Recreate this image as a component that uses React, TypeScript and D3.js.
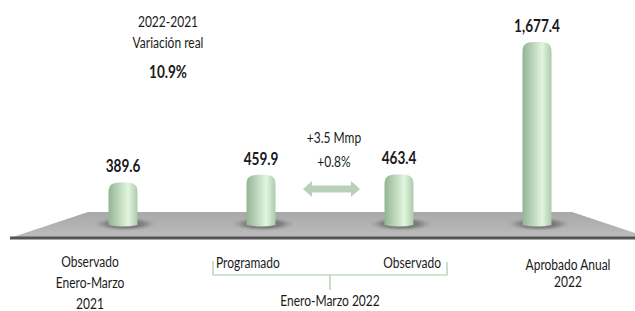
import React, { useEffect, useRef } from 'react';
import * as d3 from 'd3';

const categories = ['obs2021', 'prog2022', 'obs2022', 'aprob2022'];
const values = [389.6, 459.9, 463.4, 1677.4];
const valueLabels = ['389.6', '459.9', '463.4', '1,677.4'];

const W = 635;
const H = 311;
const FONT = 'Lato, "Open Sans", sans-serif';
const SX = 0.8; // compresión horizontal del texto

const App: React.FC = () => {
  const ref = useRef<SVGSVGElement>(null);

  useEffect(() => {
    if (!ref.current) return;
    const svg = d3.select(ref.current);
    svg.selectAll('*').remove();

    const x = d3.scalePoint<string>().domain(categories).range([123, 537]);
    const y = d3.scaleLinear().domain([0, 1677.4]).range([225, 42]);
    const barW = 29;

    const defs = svg.append('defs');
    const grad = defs.append('linearGradient').attr('id', 'barGrad')
      .attr('x1', '0%').attr('x2', '100%').attr('y1', '0%').attr('y2', '0%');
    grad.append('stop').attr('offset', '0%').attr('stop-color', '#93b493');
    grad.append('stop').attr('offset', '30%').attr('stop-color', '#b6d1b5');
    grad.append('stop').attr('offset', '68%').attr('stop-color', '#e2f5df');
    grad.append('stop').attr('offset', '100%').attr('stop-color', '#adcaab');

    const shadow = defs.append('radialGradient').attr('id', 'shadowGrad');
    shadow.append('stop').attr('offset', '0%').attr('stop-color', '#444').attr('stop-opacity', 0.9);
    shadow.append('stop').attr('offset', '60%').attr('stop-color', '#666').attr('stop-opacity', 0.6);
    shadow.append('stop').attr('offset', '100%').attr('stop-color', '#999').attr('stop-opacity', 0);

    const floorGrad = defs.append('linearGradient').attr('id', 'floorGrad')
      .attr('x1', '0').attr('x2', '0').attr('y1', '0').attr('y2', '1');
    floorGrad.append('stop').attr('offset', '0%').attr('stop-color', '#a8a8a8');
    floorGrad.append('stop').attr('offset', '100%').attr('stop-color', '#bcbcbc');

    // piso
    svg.append('path')
      .attr('d', 'M10,238 L88,212 L572,212 L650,238 Z')
      .attr('fill', 'url(#floorGrad)');
    svg.append('rect').attr('x', 10).attr('y', 236.5).attr('width', 640).attr('height', 3)
      .attr('fill', '#555');

    // sombras
    svg.selectAll('.shadow')
      .data(categories)
      .enter().append('ellipse')
      .attr('cx', d => (x(d) as number) + 2)
      .attr('cy', 224)
      .attr('rx', 32)
      .attr('ry', 7)
      .attr('fill', 'url(#shadowGrad)');

    // barras
    const r = 10;
    svg.selectAll('.bar')
      .data(values)
      .enter().append('path')
      .attr('d', (v, i) => {
        const cx = x(categories[i]) as number;
        const x0 = cx - barW / 2;
        const x1 = cx + barW / 2;
        const top = y(v);
        const bot = y(0);
        return `M${x0},${bot} L${x0},${top + r} C${x0},${top + 1} ${x0 + 4},${top} ${cx},${top} C${x1 - 4},${top} ${x1},${top + 1} ${x1},${top + r} L${x1},${bot} Q${cx},${bot + 3} ${x0},${bot} Z`;
      })
      .attr('fill', 'url(#barGrad)');

    const txt = (tx: number, ty: number, s: string, size = 15, anchor = 'middle', bold = false) =>
      svg.append('text')
        .attr('transform', `translate(${tx},${ty}) scale(${SX},1)`)
        .attr('text-anchor', anchor)
        .style('font-family', FONT)
        .style('font-weight', bold ? 'bold' : 'normal')
        .style('font-size', size + 'px')
        .attr('fill', '#1a1a1a')
        .text(s);

    // etiquetas de valor
    values.forEach((v, i) => {
      txt(x(categories[i]) as number, y(v) - 10, valueLabels[i], 17, 'middle', true);
    });

    // variación real
    txt(168, 27, '2022-2021');
    txt(168, 48, 'Variación real');
    txt(168, 78, '10.9%', 17, 'middle', true);

    // flecha
    const ax0 = 303, ax1 = 360, ay = 189;
    svg.append('path')
      .attr('d', `M${ax0},${ay} L${ax0 + 9},${ay - 8} L${ax0 + 9},${ay - 3.5} L${ax1 - 9},${ay - 3.5} L${ax1 - 9},${ay - 8} L${ax1},${ay} L${ax1 - 9},${ay + 8} L${ax1 - 9},${ay + 3.5} L${ax0 + 9},${ay + 3.5} L${ax0 + 9},${ay + 8} Z`)
      .attr('fill', '#b9d1b8');
    txt(334, 143, '+3.5 Mmp');
    txt(334, 167, '+0.8%');

    // etiquetas categorías
    txt(90, 267, 'Observado');
    txt(90, 288, 'Enero-Marzo');
    txt(90, 309, '2021');
    txt(216, 268, 'Programado', 15, 'start');
    txt(441, 268, 'Observado', 15, 'end');
    txt(568, 270, 'Aprobado Anual');
    txt(568, 287, '2022');

    // llave
    svg.append('path')
      .attr('d', 'M213,261 L213,275 L447,275 L447,262 M330,275 L330,290')
      .attr('fill', 'none')
      .attr('stroke', '#a9c9a8')
      .attr('stroke-width', 1.2);
    txt(330, 306, 'Enero-Marzo 2022');
  }, []);

  return (
    <svg ref={ref} width={W} height={H}
      style={{ position: 'absolute', left: 0, top: 0, background: '#fff' }} />
  );
};

export default App;
